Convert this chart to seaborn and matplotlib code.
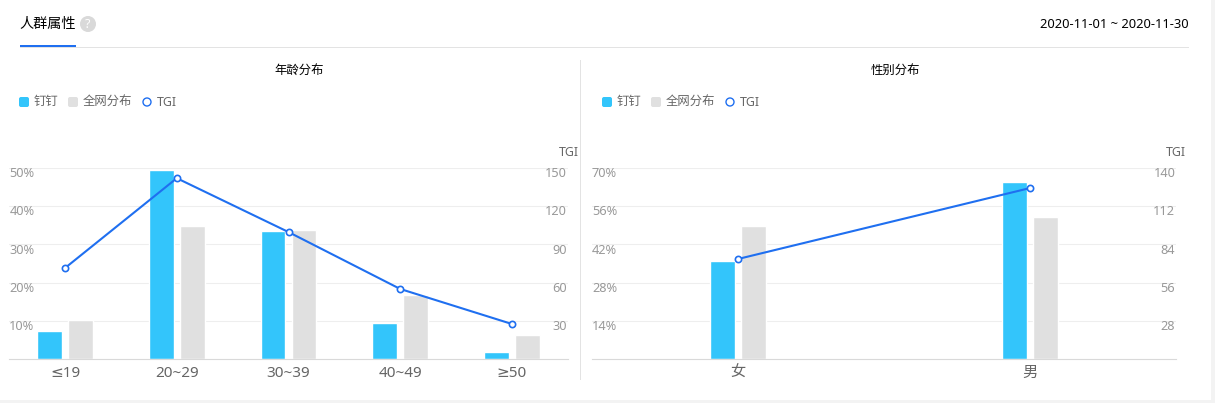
import pandas as pd
import matplotlib
matplotlib.use('Agg')
import matplotlib.pyplot as plt
from matplotlib.patches import Circle, FancyBboxPatch, Rectangle
from matplotlib.transforms import ScaledTranslation
import seaborn as sns

# data
age_groups = ['≤19', '20~29', '30~39', '40~49', '≥50']
age_dingding = [7.3, 49.5, 33.4, 9.4, 1.8]
age_network = [10.2, 34.8, 33.7, 16.7, 6.2]
age_tgi = [71.5, 142, 99.7, 55, 27.5]
age_pct_ticks = [10, 20, 30, 40, 50]
age_tgi_ticks = [30, 60, 90, 120, 150]

genders = ['女', '男']
gender_dingding = [35.9, 64.8]
gender_network = [48.7, 52.0]
gender_tgi = [73.3, 125.3]
gender_pct_ticks = [14, 28, 42, 56, 70]
gender_tgi_ticks = [28, 56, 84, 112, 140]

series_names = ['钉钉', '全网分布']
BLUE = '#33c5fb'
GREY = '#e0e0e0'
LINE = '#1f6ff0'
W, H = 1215, 403

sns.set_theme(style='white')
# DejaVu sits before the CJK family so that ≤ and ≥ keep their upright shape
plt.rcParams['font.family'] = ['Noto Sans', 'DejaVu Sans', 'Noto Sans CJK SC']

fig = plt.figure(figsize=(W / 100, H / 100), dpi=100, facecolor='white')
label_shift = ScaledTranslation(0, -5.8 / 100, fig.dpi_scale_trans)


def px_axes(x0, x1, y_top, y_bottom):
    return fig.add_axes([x0 / W, 1 - y_bottom / H, (x1 - x0) / W, (y_bottom - y_top) / H])


def draw_panel(ax, cats, own, network, tgi, pct_ticks, tgi_ticks, width, gap):
    df = pd.DataFrame({
        'cat': cats * 2,
        'value': own + network,
        'series': [series_names[0]] * len(cats) + [series_names[1]] * len(cats),
    })
    sns.barplot(data=df, x='cat', y='value', hue='series', order=cats, hue_order=series_names,
                palette=[BLUE, GREY], saturation=1, width=width, gap=gap, legend=False, ax=ax)
    ax.set_xlabel('')
    ax.set_ylabel('')
    ax.set_ylim(0, pct_ticks[-1])
    ax.set_xlim(-0.5, len(cats) - 0.5)
    ax.set_yticks(pct_ticks)
    ax.set_yticklabels([f'{t}%' for t in pct_ticks], ha='left', va='center')
    ax.tick_params(axis='y', length=0, pad=0, labelsize=9.2, labelcolor='#999999')
    ax.tick_params(axis='x', length=0, pad=5, labelsize=11, labelcolor='#666666')
    ax.grid(axis='y', color='#eeeeee', linewidth=0.8)
    ax.set_axisbelow(True)
    for side in ['top', 'left', 'right']:
        ax.spines[side].set_visible(False)
    ax.spines['bottom'].set_color('#d9d9d9')
    ax.spines['bottom'].set_linewidth(0.8)
    ax.patch.set_alpha(0)
    for label in ax.get_yticklabels():
        label.set_transform(label.get_transform() + label_shift)

    # TGI on the second axis
    ax2 = ax.twinx()
    sns.lineplot(x=cats, y=tgi, color=LINE, linewidth=1.5, marker='o', markersize=4.5,
                 markerfacecolor='white', markeredgecolor=LINE, markeredgewidth=1.2,
                 sort=False, errorbar=None, ax=ax2, clip_on=False)
    ax2.set_ylim(0, tgi_ticks[-1])
    ax2.set_xlim(-0.5, len(cats) - 0.5)
    ax2.set_yticks(tgi_ticks)
    ax2.set_yticklabels([str(t) for t in tgi_ticks], ha='right', va='center')
    ax2.tick_params(axis='y', length=0, pad=-0.5, labelsize=9.2, labelcolor='#999999')
    ax2.set_ylabel('')
    ax2.grid(False)
    for spine in ax2.spines.values():
        spine.set_visible(False)
    for label in ax2.get_yticklabels():
        label.set_transform(label.get_transform() + label_shift)


ax_age = px_axes(9.25, 567.75, 168, 359)
draw_panel(ax_age, age_groups, age_dingding, age_network, age_tgi,
           age_pct_ticks, age_tgi_ticks, 0.555, 0.2)

ax_gender = px_axes(592, 1176, 168, 359)
draw_panel(ax_gender, genders, gender_dingding, gender_network, gender_tgi,
           gender_pct_ticks, gender_tgi_ticks, 0.212, 0.2)

# header, legends and page furniture, in pixel coordinates
top = fig.add_axes([0, 0, 1, 1], zorder=10)
top.set_xlim(0, W)
top.set_ylim(H, 0)
top.axis('off')

top.add_patch(Rectangle((0, 400), W, 3, color='#f3f3f3', lw=0))
top.add_patch(Rectangle((1211, 0), 4, H, color='#f3f3f3', lw=0))
top.add_patch(Rectangle((20, 47), 1169, 1, color='#e3e3e3', lw=0))
top.add_patch(Rectangle((20, 45), 56, 2, color='#1f6ff0', lw=0))
top.add_patch(Rectangle((580, 60), 1, 320, color='#e3e3e3', lw=0))

top.text(48, 24, '人群属性', fontsize=10.2, color='black', ha='center', va='center')
top.add_patch(Circle((88, 24), 8, color='#d9d9d9', lw=0))
top.text(88, 24, '?', fontsize=9, fontweight='bold', color='white', ha='center', va='center')
top.text(1189, 24, '2020-11-01 ~ 2020-11-30', fontsize=9.3, color='black', ha='right', va='center')

top.text(299, 71, '年龄分布', fontsize=8.9, color='black', ha='center', va='center')
top.text(895, 70, '性别分布', fontsize=8.9, color='black', ha='center', va='center')


def draw_legend(x):
    top.add_patch(FancyBboxPatch((x + 1, 98), 8, 8, boxstyle='round,pad=1,rounding_size=2', color=BLUE, lw=0))
    top.text(x + 15, 101, series_names[0], fontsize=8.9, color='#666666', ha='left', va='center')
    top.add_patch(FancyBboxPatch((x + 50, 98), 8, 8, boxstyle='round,pad=1,rounding_size=2', color=GREY, lw=0))
    top.text(x + 64, 101, series_names[1], fontsize=8.9, color='#666666', ha='left', va='center')
    top.add_patch(Circle((x + 128, 102), 4, facecolor='white', edgecolor=LINE, lw=1))
    top.text(x + 138, 102, 'TGI', fontsize=8.9, color='#666666', ha='left', va='center')


draw_legend(19)
draw_legend(602)

top.text(579, 152, 'TGI', fontsize=8.9, color='#666666', ha='right', va='center')
top.text(1186, 152, 'TGI', fontsize=8.9, color='#666666', ha='right', va='center')

fig.savefig('out.png', dpi=100)
plt.close(fig)
